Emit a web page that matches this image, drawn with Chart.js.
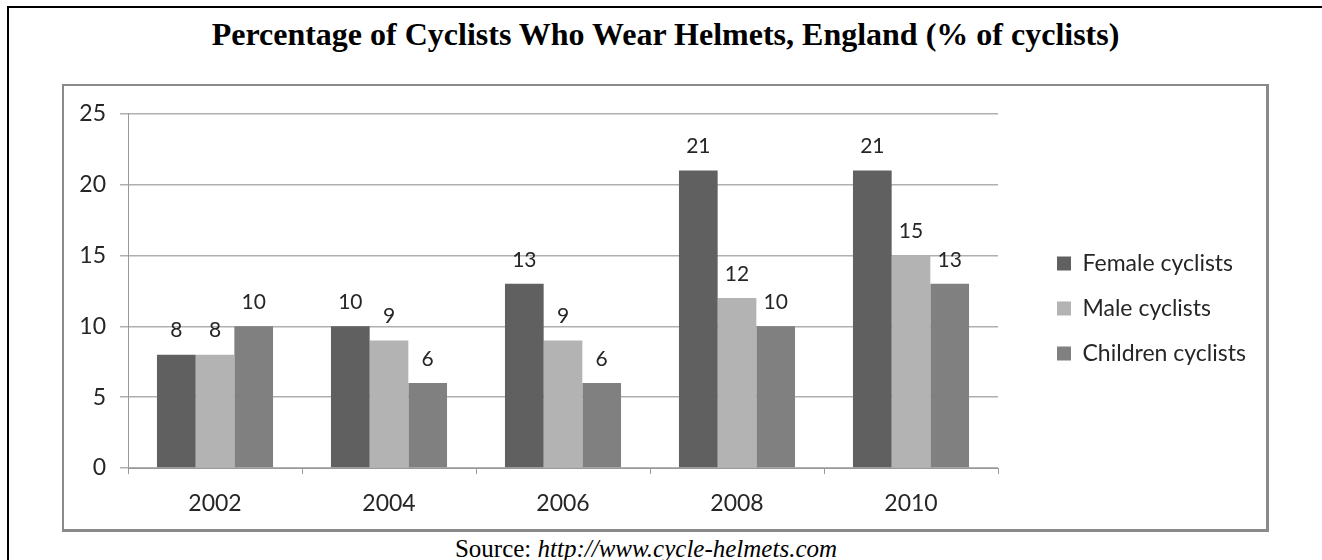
<!DOCTYPE html>
<html>
<head>
<meta charset="utf-8">
<script src="https://cdn.jsdelivr.net/npm/chart.js@4.4.0/dist/chart.umd.min.js"></script>
<style>
  html, body { margin: 0; padding: 0; background: #fff; }
  body { width: 1322px; height: 560px; position: relative; overflow: hidden; }
  .page-frame {
    position: absolute; left: 7px; top: 6px; right: -10px; bottom: -10px;
    border-left: 2px solid #000; border-top: 2px solid #000;
  }
  .doc-title {
    position: absolute; left: 62px; width: 1207px; top: 18px;
    text-align: center; font: bold 32px/32px "Liberation Serif", "Times New Roman", serif; color: #000;
    white-space: nowrap;
  }
  .chart-box {
    position: absolute; left: 62px; top: 84px; width: 1202px; height: 443px;
    border-style: solid; border-color: #8a8a8a; border-width: 2px 3px 3px 2px;
    background: #fff;
  }
  .doc-source {
    position: absolute; left: 396px; width: 500px; top: 536px;
    text-align: center; font: 25px/25px "Liberation Serif", "Times New Roman", serif; color: #000;
    white-space: nowrap;
  }
</style>
</head>
<body>
<div class="page-frame"></div>
<div class="doc-title">Percentage of Cyclists Who Wear Helmets, England (% of cyclists)</div>
<div class="chart-box"><canvas id="chart-helmets"></canvas></div>
<div class="doc-source">Source: <i>http://www.cycle-helmets.com</i></div>

<script>
/* ── Data ── */
const years    = ['2002', '2004', '2006', '2008', '2010'];
const female   = [8, 10, 13, 21, 21];
const male     = [8, 9, 9, 12, 15];
const children = [10, 6, 6, 10, 13];
const yTicks   = [0, 5, 10, 15, 20, 25];

const FONT = 'Lato';
const TEXT = '#262626';
const GRID = '#b0b0b0';

// value labels above each bar
const barLabels = {
  id: 'barLabels',
  afterDatasetsDraw(chart) {
    const { ctx } = chart;
    ctx.save();
    ctx.font = `21px ${FONT}`;
    ctx.fillStyle = TEXT;
    ctx.textAlign = 'center';
    ctx.textBaseline = 'middle';
    chart.data.datasets.forEach((ds, i) => {
      chart.getDatasetMeta(i).data.forEach((bar, j) => {
        ctx.fillText(ds.data[j], bar.x, bar.y - 24);
      });
    });
    ctx.restore();
  }
};

const ctx = document.getElementById('chart-helmets');
new Chart(ctx, {
  type: 'bar',
  data: {
    labels: years,
    datasets: [
      { label: 'Female cyclists',   data: female,   backgroundColor: '#606060' },
      { label: 'Male cyclists',     data: male,     backgroundColor: '#b3b3b3' },
      { label: 'Children cyclists', data: children, backgroundColor: '#808080' },
    ]
  },
  options: {
    responsive: true, maintainAspectRatio: false, animation: false,
    datasets: { bar: { categoryPercentage: 0.667, barPercentage: 1, borderWidth: 0 } },
    layout: { padding: { left: 0, top: 27, right: 16, bottom: 0 } },
    plugins: {
      legend: {
        position: 'right', fullSize: false, maxWidth: 215,
        // blank title only pushes the items down a bit
        title: { display: true, text: ' ', font: { size: 10, lineHeight: 1 }, padding: { top: 0, bottom: 25 } },
        labels: { color: TEXT, font: { family: FONT, size: 23 }, boxWidth: 14, boxHeight: 14, padding: 22 }
      },
      tooltip: { enabled: false }
    },
    scales: {
      x: {
        offset: true,
        grid: { offset: true, drawOnChartArea: false, drawTicks: true, tickLength: 6, color: '#999' },
        border: { color: '#999', width: 1 },
        ticks: { color: TEXT, font: { family: FONT, size: 23 }, padding: 16 },
        afterFit: s => { s.height = 61; }
      },
      y: {
        min: 0, max: 25,
        afterBuildTicks: s => { s.ticks = yTicks.map(v => ({ value: v })); },
        grid: { color: GRID, lineWidth: 1.5, tickLength: 8 },
        border: { color: '#999', width: 1 },
        ticks: { color: TEXT, font: { family: FONT, size: 23 }, padding: 14 },
        afterFit: s => { s.width = 64; }
      },
      // empty spacer between plot and legend
      gap: {
        position: 'right', display: true,
        grid: { display: false, drawTicks: false },
        border: { display: false },
        ticks: { display: false },
        afterFit: s => { s.width = 37; }
      }
    }
  },
  plugins: [barLabels]
});
</script>
</body>
</html>
